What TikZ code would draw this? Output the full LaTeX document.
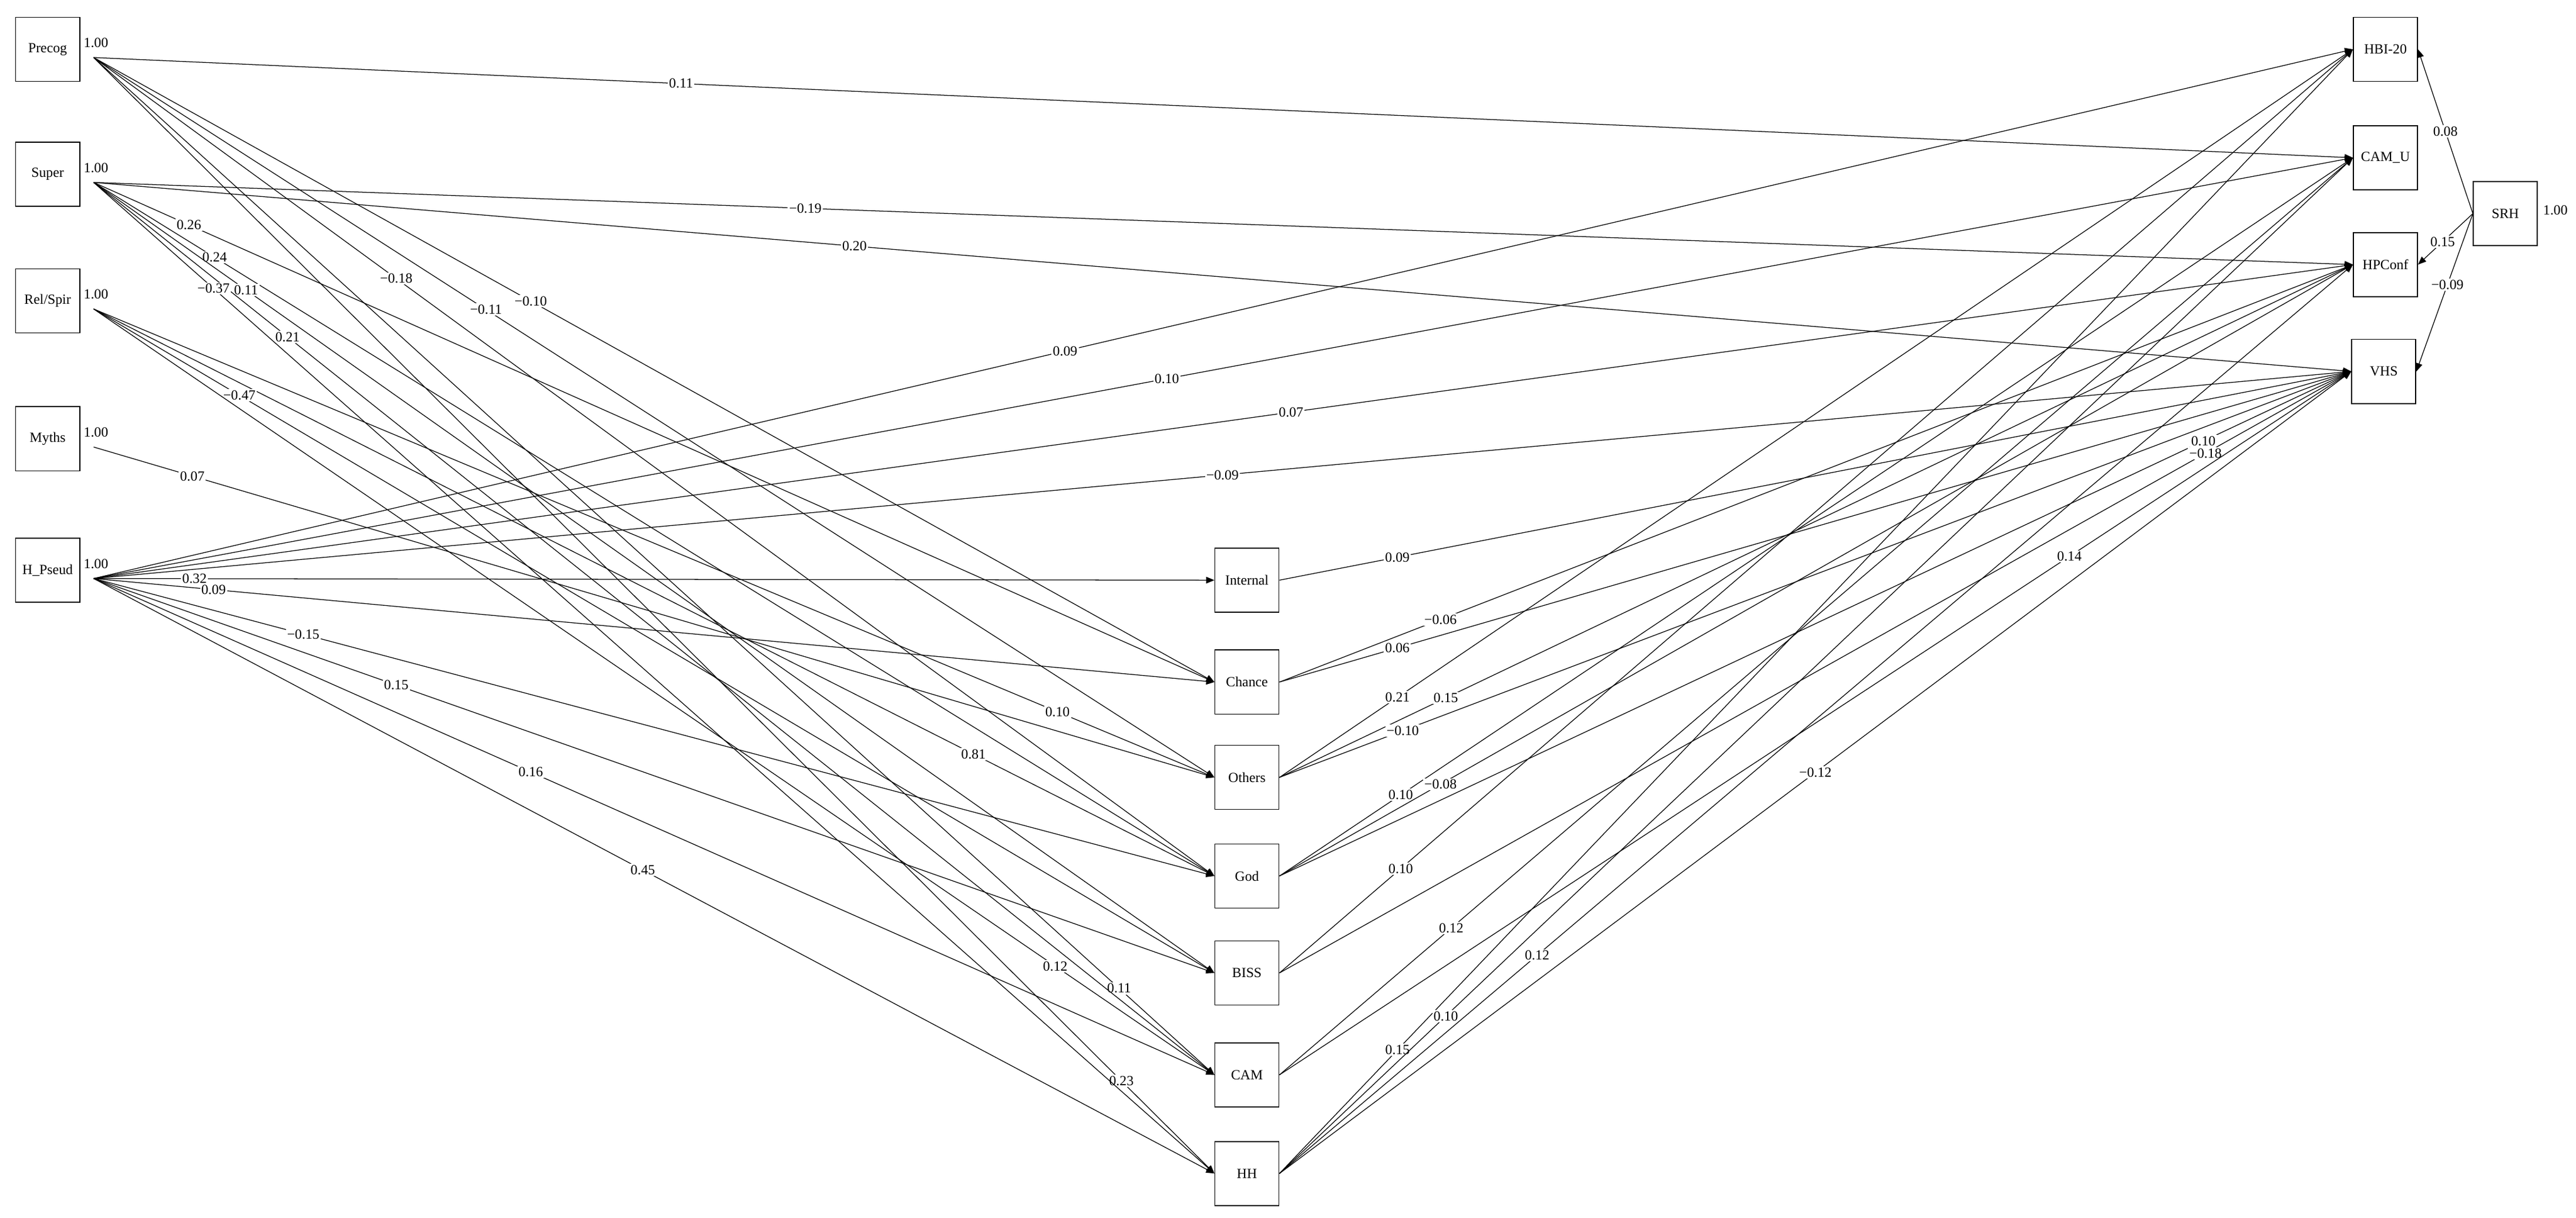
\documentclass[tikz,border=0pt]{standalone}
\usepackage{fontspec}
\setmainfont{Liberation Serif}
\usetikzlibrary{arrows.meta}
\begin{document}
\begin{tikzpicture}[x=1pt,y=-1pt,
  box/.style={draw,line width=0.6pt,minimum width=39pt,minimum height=39pt,inner sep=0pt,font=\fontsize{8.5}{9}\selectfont},
  e/.style={line width=0.45pt,-{Triangle[length=5pt,width=4pt]}},
  lab/.style={fill=white,inner sep=0.8pt,font=\fontsize{8.5}{9}\selectfont}]
\useasboundingbox (0,0) rectangle (1568,741);
% left
\node[box] (pre) at (29,30) {Precog};
\node[box] (sup) at (29,106) {Super};
\node[box] (rel) at (29,183) {Rel/Spir};
\node[box] (myt) at (29,267) {Myths};
\node[box] (hps) at (29,347) {H\_Pseud};
\foreach \n/\y in {pre/30,sup/106,rel/183,myt/267,hps/347}{
  \node[lab,anchor=west] at (50,\y-4) {1.00};
  \coordinate (\n s) at (57,\y+5);}
% middle
\node[box] (int) at (759,353) {Internal};
\node[box] (cha) at (759,415) {Chance};
\node[box] (oth) at (759,473) {Others};
\node[box] (god) at (759,533) {God};
\node[box] (bis) at (759,592) {BISS};
\node[box] (cam) at (759,654) {CAM};
\node[box] (hh) at (759,714) {HH};
% right
\node[box] (hbi) at (1452,30) {HBI-20};
\node[box] (camu) at (1452,96) {CAM\_U};
\node[box] (hpc) at (1452,161) {HPConf};
\node[box] (vhs) at (1451,226) {VHS};
\node[box] (srh) at (1525,130) {SRH};
\node[lab,anchor=west] at (1547,128) {1.00};
% Precog
\draw[e] (pres) -- node[lab,pos=0.26]{0.11} (camu.west);
\draw[e] (pres) -- node[lab,pos=0.39]{−0.10} (cha.west);
\draw[e] (pres) -- node[lab,pos=0.35]{−0.11} (oth.west);
\draw[e] (pres) -- node[lab,pos=0.27]{−0.18} (god.west);
\draw[e] (pres) -- node[lab,pos=0.915]{0.11} (cam.west);
\draw[e] (pres) -- node[lab,pos=0.917]{0.23} (hh.west);
% Super
\draw[e] (sups) -- node[lab,pos=0.315]{−0.19} (hpc.west);
\draw[e] (sups) -- node[lab,pos=0.337]{0.20} (vhs.west);
\draw[e] (sups) -- node[lab,pos=0.085]{0.26} (cha.west);
\draw[e] (sups) -- node[lab,pos=0.108]{0.24} (god.west);
\draw[e] (sups) -- node[lab,pos=0.136]{0.11} (bis.west);
\draw[e] (sups) -- node[lab,pos=0.173]{0.21} (cam.west);
\draw[e] (sups) -- node[lab,pos=0.107]{−0.37} (hh.west);
% Rel/Spir
\draw[e] (rels) -- node[lab,pos=0.86]{0.10} (oth.west);
\draw[e] (rels) -- node[lab,pos=0.785]{0.81} (god.west);
\draw[e] (rels) -- node[lab,pos=0.13]{−0.47} (bis.west);
\draw[e] (rels) -- node[lab,pos=0.858]{0.12} (cam.west);
% Myths
\draw[e] (myts) -- node[lab,pos=0.088]{0.07} (oth.west);
% H_Pseud
\draw[e] (hpss) -- node[lab,pos=0.43]{0.09} (hbi.west);
\draw[e] (hpss) -- node[lab,pos=0.475]{0.10} (camu.west);
\draw[e] (hpss) -- node[lab,pos=0.53]{0.07} (hpc.west);
\draw[e] (hpss) -- node[lab,pos=0.50]{−0.09} (vhs.west);
\draw[e] (hpss) -- node[lab,pos=0.09]{0.32} (int.west);
\draw[e] (hpss) -- node[lab,pos=0.107]{0.09} (cha.west);
\draw[e] (hpss) -- node[lab,pos=0.187]{−0.15} (god.west);
\draw[e] (hpss) -- node[lab,pos=0.27]{0.15} (bis.west);
\draw[e] (hpss) -- node[lab,pos=0.39]{0.16} (cam.west);
\draw[e] (hpss) -- node[lab,pos=0.49]{0.45} (hh.west);
% middle to right
\draw[e] (int.east) -- node[lab,pos=0.11]{0.09} (vhs.west);
\draw[e] (cha.east) -- node[lab,pos=0.15]{−0.06} (hpc.west);
\draw[e] (cha.east) -- node[lab,pos=0.11]{0.06} (vhs.west);
\draw[e] (oth.east) -- node[lab,pos=0.11]{0.21} (hbi.west);
\draw[e] (oth.east) -- node[lab,pos=0.155]{0.15} (hpc.west);
\draw[e] (oth.east) -- node[lab,pos=0.115]{−0.10} (vhs.west);
\draw[e] (god.east) -- node[lab,pos=0.113]{0.10} (camu.west);
\draw[e] (god.east) -- node[lab,pos=0.15]{−0.08} (hpc.west);
\draw[e] (god.east) -- node[lab,pos=0.862]{0.10} (vhs.west);
\draw[e] (bis.east) -- node[lab,pos=0.113]{0.10} (hbi.west);
\draw[e] (bis.east) -- node[lab,pos=0.864]{−0.18} (vhs.west);
\draw[e] (cam.east) -- node[lab,pos=0.16]{0.12} (camu.west);
\draw[e] (cam.east) -- node[lab,pos=0.737]{0.14} (vhs.west);
\draw[e] (hh.east) -- node[lab,pos=0.11]{0.15} (hbi.west);
\draw[e] (hh.east) -- node[lab,pos=0.155]{0.10} (camu.west);
\draw[e] (hh.east) -- node[lab,pos=0.24]{0.12} (hpc.west);
\draw[e] (hh.east) -- node[lab,pos=0.5]{−0.12} (vhs.west);
% SRH
\draw[e] (srh.west) -- node[lab,pos=0.5]{0.08} (hbi.east);
\draw[e] (srh.west) -- node[lab,pos=0.55]{0.15} (hpc.east);
\draw[e] (srh.west) -- node[lab,pos=0.45]{−0.09} (vhs.east);
\end{tikzpicture}
\end{document}
